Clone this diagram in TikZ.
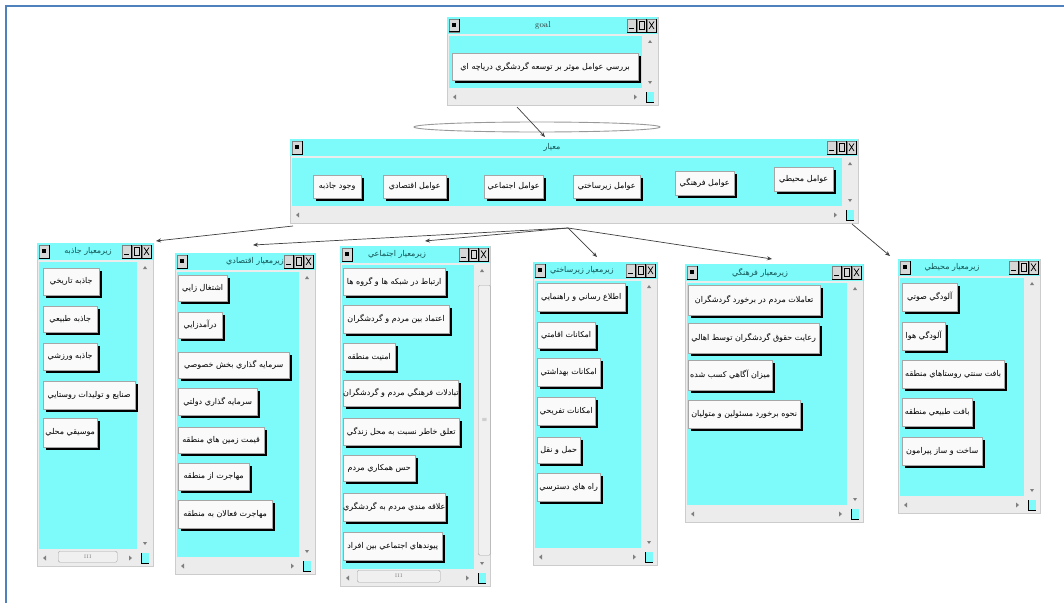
\documentclass[tikz,border=0pt]{standalone}
\usepackage{fontspec}
\newfontfamily\arabicfont[Script=Arabic]{DejaVu Sans}
\TeXXeTstate=1
\usetikzlibrary{shadows,arrows.meta}
\definecolor{cyanui}{RGB}{125,250,250}
\definecolor{wingray}{RGB}{236,236,236}
\definecolor{ctlgray}{RGB}{215,215,215}
\definecolor{btnwhite}{RGB}{250,250,250}
\definecolor{frameblue}{RGB}{79,129,189}
\definecolor{titleteal}{RGB}{20,85,85}
\newcommand\fa[1]{{\arabicfont #1}}
\tikzset{
  btn/.style={draw=gray!70, fill=btnwhite, inner sep=0pt,
    font=\fontsize{8}{9}\selectfont,
    general shadow={fill=black, shadow xshift=2.5pt, shadow yshift=-2.5pt}},
  titletext/.style={font=\fontsize{8}{9}\selectfont, text=titleteal, inner sep=0pt},
  conn/.style={draw=black!75, line width=0.7pt, -{Stealth[length=5pt,width=4pt]}},
  thumb/.style={draw=gray!70, fill=gray!12, rounded corners=1.5pt}
}
\newcommand\uibtn[6]{%
  \pgfmathsetmacro\bw{#4-#2-3}\pgfmathsetmacro\bh{#5-#3-3}%
  \node[btn, anchor=north west, minimum width=\bw pt, minimum height=\bh pt] (#1) at (#2,#3) {\fa{#6}};}
\newcommand\uiwin[7]{%
  \fill[wingray] (#2,#3) rectangle (#4,#5);
  \draw[gray!40, line width=0.4pt] (#2,#3) rectangle (#4,#5);
  \fill[cyanui] (#2,#3) rectangle (#4,{#3+17});
  \fill[cyanui] ({#2+2},{#3+19}) rectangle ({#4-16},{#5-17});
  % window icon
  \filldraw[fill=ctlgray, draw=gray] ({#2+2},{#3+2}) rectangle ({#2+12},{#3+15});
  \draw[black, line width=1pt] ({#2+12},{#3+2}) -- ({#2+12},{#3+15}) -- ({#2+2},{#3+15});
  \fill[black] ({#2+5},{#3+6}) rectangle ({#2+9},{#3+10});
  % title
  \node[titletext] (#1-title) at (#7,{#3+8.5}) {#6};
  % control boxes
  \foreach \k in {0,1,2}{%
    \filldraw[fill=ctlgray, draw=gray] ({#4-31+10*\k},{#3+2}) rectangle ({#4-22+10*\k},{#3+15});
    \draw[black, line width=0.7pt] ({#4-22+10*\k},{#3+2}) -- ({#4-22+10*\k},{#3+15}) -- ({#4-31+10*\k},{#3+15});}
  \draw[black, line width=1.2pt] ({#4-29},{#3+11.5}) -- ({#4-24.5},{#3+11.5});
  \draw[black, line width=0.6pt] ({#4-19},{#3+4.5}) rectangle ({#4-14},{#3+12});
  \draw[black, line width=0.7pt] ({#4-9},{#3+4.5}) -- ({#4-4},{#3+12}) ({#4-9},{#3+12}) -- ({#4-4},{#3+4.5});
  % scroll arrows
  \fill[gray] ({#4-8},{#3+23}) -- ({#4-10},{#3+26}) -- ({#4-6},{#3+26}) -- cycle;
  \fill[gray] ({#4-10},{#5-24}) -- ({#4-6},{#5-24}) -- ({#4-8},{#5-21}) -- cycle;
  \fill[gray] ({#2+6},{#5-8}) -- ({#2+9},{#5-10.5}) -- ({#2+9},{#5-5.5}) -- cycle;
  \fill[gray] ({#4-21},{#5-8}) -- ({#4-24},{#5-10.5}) -- ({#4-24},{#5-5.5}) -- cycle;
  % corner square
  \fill[cyanui] ({#4-12},{#5-13}) rectangle ({#4-4},{#5-3});
  \draw[black, line width=0.8pt] ({#4-12},{#5-13}) -- ({#4-12},{#5-3}) -- ({#4-4},{#5-3});
}
\begin{document}
\begin{tikzpicture}[x=1pt,y=-1pt]
\useasboundingbox (0,0) rectangle (1064,602);
\fill[white] (0,0) rectangle (1064,602);
\draw[frameblue, line width=2.3pt] (6,610) -- (6,6) -- (1070,6);

% goal window
\uiwin{goal}{447}{17}{658}{105}{\fontsize{8.5}{9}\selectfont\color{black!80} goal}{543}
\uibtn{g1}{452}{53}{641}{83}{\beginR بررسي عوامل موثر بر توسعه گردشگري درياچه اي\endR}

% ellipse
\draw[gray!80, line width=0.9pt] (537,127) ellipse [x radius=123, y radius=5];

% criteria window
\uiwin{crit}{290}{139}{858}{223}{\fa{\beginR معيار\endR}}{552}
\uibtn{c1}{313}{175}{364}{201}{\beginR وجود جاذبه\endR}
\uibtn{c2}{383}{175}{449}{201}{\beginR عوامل اقتصادي\endR}
\uibtn{c3}{484}{175}{546}{201}{\beginR عوامل اجتماعي\endR}
\uibtn{c4}{573}{175}{643}{201}{\beginR عوامل زيرساختي\endR}
\uibtn{c5}{675}{171}{737}{198}{\beginR عوامل فرهنگي\endR}
\uibtn{c6}{774}{167}{836}{194}{\beginR عوامل محيطي\endR}

% sub-criterion: attraction
\uiwin{J}{37}{243}{153}{566}{\fa{\beginR زيرمعيار جاذبه\endR}}{88}
\node[thumb, minimum width=59pt, minimum height=11pt, anchor=north west, font=\fontsize{5}{6}\selectfont, text=gray] (jth) at (58,551) {III};
\uibtn{j1}{43}{268}{102}{298}{\beginR جاذبه تاريخي\endR}
\uibtn{j2}{43}{306}{100}{335}{\beginR جاذبه طبيعي\endR}
\uibtn{j3}{43}{343}{100}{373}{\beginR جاذبه ورزشي\endR}
\uibtn{j4}{43}{381}{138}{412}{\beginR صنايع و توليدات روستايي\endR}
\uibtn{j5}{43}{418}{100}{450}{\beginR موسيقي محلي\endR}

% economic
\uiwin{E}{175}{253}{315}{574}{\fa{\beginR زيرمعيار اقتصادي\endR}}{255}
\uibtn{e1}{178}{275}{230}{304}{\beginR اشتغال زايي\endR}
\uibtn{e2}{178}{312}{225}{341}{\beginR درآمدزايي\endR}
\uibtn{e3}{178}{352}{292}{381}{\beginR سرمايه گذاري بخش خصوصي\endR}
\uibtn{e4}{178}{388}{260}{418}{\beginR سرمايه گذاري دولتي\endR}
\uibtn{e5}{178}{427}{267}{456}{\beginR قيمت زمين هاي منطقه\endR}
\uibtn{e6}{178}{463}{252}{493}{\beginR مهاجرت از منطقه\endR}
\uibtn{e7}{178}{500}{275}{531}{\beginR مهاجرت فعالان به منطقه\endR}

% social
\uiwin{S}{340}{246}{490}{586}{\fa{\beginR زيرمعيار اجتماعي\endR}}{397}
\node[thumb, minimum width=10pt, minimum height=270pt, anchor=north west, font=\fontsize{6}{6}\selectfont, text=gray] (sth) at (478,285) {$\equiv$};
\node[thumb, minimum width=83pt, minimum height=12pt, anchor=north west, font=\fontsize{5}{6}\selectfont, text=gray] (sth2) at (357,570) {III};
\uibtn{s1}{343}{268}{448}{298}{\beginR ارتباط در شبکه ها و گروه ها\endR}
\uibtn{s2}{343}{305}{452}{336}{\beginR اعتماد بين مردم و گردشگران\endR}
\uibtn{s3}{343}{343}{398}{373}{\beginR امنيت منطقه\endR}
\uibtn{s4}{343}{380}{458}{409}{\beginR تبادلات فرهنگي مردم و گردشگران\endR}
\uibtn{s5}{343}{418}{462}{448}{\beginR تعلق خاطر نسبت به محل زندگي\endR}
\uibtn{s6}{343}{455}{418}{484}{\beginR حس همکاري مردم\endR}
\uibtn{s7}{343}{493}{447}{524}{\beginR علاقه مندي مردم به گردشگري\endR}
\uibtn{s8}{343}{532}{445}{563}{\beginR پيوندهاي اجتماعي بين افراد\endR}

% infrastructure
\uiwin{Z}{533}{262}{657}{565}{\fa{\beginR زيرمعيار زيرساختي\endR}}{582}
\uibtn{z1}{537}{283}{628}{314}{\beginR اطلاع رساني و راهنمايي\endR}
\uibtn{z2}{537}{322}{598}{351}{\beginR امکانات اقامتي\endR}
\uibtn{z3}{537}{358}{603}{389}{\beginR امکانات بهداشتي\endR}
\uibtn{z4}{537}{397}{598}{428}{\beginR امکانات تفريحي\endR}
\uibtn{z5}{537}{437}{583}{466}{\beginR حمل و نقل\endR}
\uibtn{z6}{537}{473}{603}{504}{\beginR راه هاي دسترسي\endR}

% cultural
\uiwin{F}{685}{264}{863}{522}{\fa{\beginR زيرمعيار فرهنگي\endR}}{760}
\uibtn{f1}{688}{285}{823}{318}{\beginR تعاملات مردم در برخورد گردشگران\endR}
\uibtn{f2}{688}{323}{822}{356}{\beginR رعايت حقوق گردشگران توسط اهالي\endR}
\uibtn{f3}{688}{360}{775}{393}{\beginR ميزان آگاهي کسب شده\endR}
\uibtn{f4}{688}{400}{803}{431}{\beginR نحوه برخورد مسئولين و متوليان\endR}

% environmental
\uiwin{M}{898}{259}{1040}{513}{\fa{\beginR زيرمعيار محيطي\endR}}{952}
\uibtn{m1}{902}{283}{960}{314}{\beginR آلودگي صوتي\endR}
\uibtn{m2}{902}{322}{948}{353}{\beginR آلودگي هوا\endR}
\uibtn{m3}{902}{360}{1007}{391}{\beginR بافت سنتي روستاهاي منطقه\endR}
\uibtn{m4}{902}{398}{975}{429}{\beginR بافت طبيعي منطقه\endR}
\uibtn{m5}{902}{437}{985}{468}{\beginR ساخت و ساز پيرامون\endR}

% connectors
\coordinate (gS) at (517,107);
\coordinate (cN) at (545,137);
\coordinate (hub) at (568,228);
\coordinate (jS) at (293,226);
\coordinate (jE) at (156,241);
\coordinate (eE) at (253,245);
\coordinate (sE) at (425,241);
\coordinate (zE) at (597,257);
\coordinate (fE) at (772,259);
\coordinate (mS) at (852,224);
\coordinate (mE) at (890,256);
\draw[conn] (gS) -- (cN);
\draw[conn] (jS) -- (jE);
\draw[conn] (hub) -- (eE);
\draw[conn] (hub) -- (sE);
\draw[conn] (hub) -- (zE);
\draw[conn] (hub) -- (fE);
\draw[conn] (mS) -- (mE);
\end{tikzpicture}
\end{document}
